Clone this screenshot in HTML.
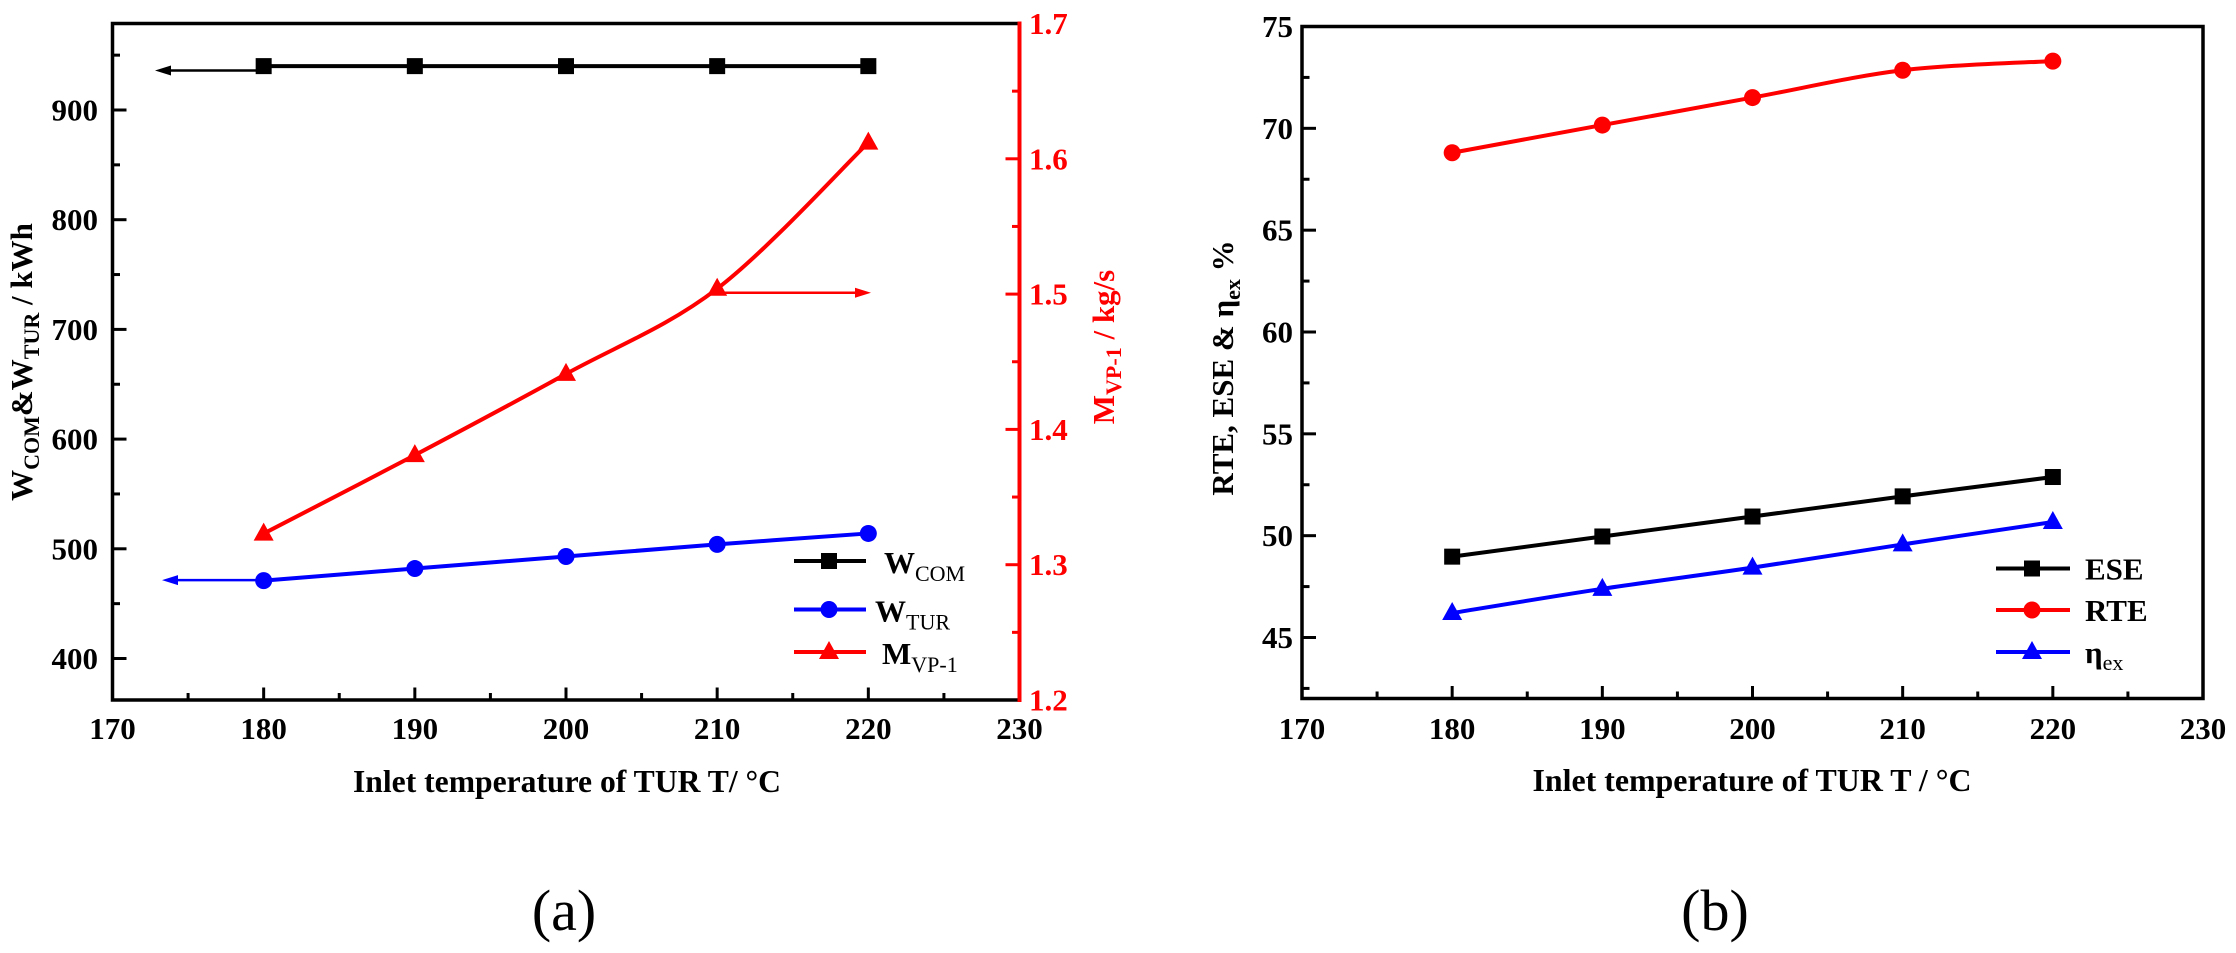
<!DOCTYPE html>
<html><head><meta charset="utf-8"><style>
html,body{margin:0;padding:0;background:#fff;}
svg{display:block;font-family:"Liberation Serif","Times New Roman",serif;font-weight:bold;}
</style></head><body>
<svg id="fig" width="2236" height="953" viewBox="0 0 2236 953" xmlns="http://www.w3.org/2000/svg"></svg>
<script>
const temps = [180, 190, 200, 210, 220];
const wCom = [940, 940, 940, 940, 940];
const wTur = [471, 482, 493, 504, 514];
const mVp = [1.323, 1.381, 1.441, 1.504, 1.612];
const ese = [48.97, 49.96, 50.94, 51.93, 52.88];
const rte = [68.8, 70.16, 71.51, 72.85, 73.3];
const etaEx = [46.2, 47.39, 48.43, 49.57, 50.67];
const xTicks = [170, 180, 190, 200, 210, 220, 230];
const yTicksA = [400, 500, 600, 700, 800, 900];
const yTicksAR = [1.2, 1.3, 1.4, 1.5, 1.6, 1.7];
const yTicksB = [45, 50, 55, 60, 65, 70, 75];

const NS = "http://www.w3.org/2000/svg";
const svg = document.getElementById('fig');
function mk(tag, attrs, parent) {
  const e = document.createElementNS(NS, tag);
  for (const k in attrs) e.setAttribute(k, attrs[k]);
  (parent || svg).appendChild(e);
  return e;
}
function lin(d0, d1, p0, p1) { return v => p0 + (v - d0) / (d1 - d0) * (p1 - p0); }
function spline(pts) {
  let d = `M${pts[0][0]},${pts[0][1]}`;
  for (let i = 0; i < pts.length - 1; i++) {
    const p0 = pts[i - 1] || pts[i], p1 = pts[i], p2 = pts[i + 1], p3 = pts[i + 2] || p2;
    const c1 = [p1[0] + (p2[0] - p0[0]) / 6, p1[1] + (p2[1] - p0[1]) / 6];
    const c2 = [p2[0] - (p3[0] - p1[0]) / 6, p2[1] - (p3[1] - p1[1]) / 6];
    d += ` C${c1[0]},${c1[1]} ${c2[0]},${c2[1]} ${p2[0]},${p2[1]}`;
  }
  return d;
}
function marker(type, x, y, color, name) {
  let e;
  if (type === 'square') e = mk('rect', {x: x - 8, y: y - 8, width: 16, height: 16, fill: color});
  else if (type === 'circle') e = mk('circle', {cx: x, cy: y, r: 8.5, fill: color});
  else e = mk('polygon', {points: `${x},${y - 11} ${x + 10},${y + 7} ${x - 10},${y + 7}`, fill: color});
  
  
  return e;
}
function series(xs, ys, sx, sy, color, type, name) {
  const pts = xs.map((v, i) => [sx(v), sy(ys[i])]);
  const p = mk('path', {d: spline(pts), fill: 'none', stroke: color, 'stroke-width': 4});
  
  
  pts.forEach((pt, i) => marker(type, pt[0], pt[1], color, name + '-point-' + xs[i]));
}
function text(str, x, y, size, anchor, color, name, extra) {
  const t = mk('text', Object.assign({x: x, y: y, 'font-size': size, 'text-anchor': anchor || 'start', fill: color || '#000'}, extra || {}));
  t.textContent = str;
  
  
  return t;
}
function arrow(x1, x2, y, color, name) {
  const dir = Math.sign(x2 - x1);
  const l = mk('line', {x1: x1, y1: y, x2: x2 - dir * 10, y2: y, stroke: color, 'stroke-width': 2.5});
  
  
  const h = mk('polygon', {points: `${x2},${y} ${x2 - dir * 16},${y - 5} ${x2 - dir * 16},${y + 5}`, fill: color});
  
  
}
function xAxis(sx, yB, prefix) {
  xTicks.forEach(v => {
    const t = mk('line', {x1: sx(v), y1: yB, x2: sx(v), y2: yB - 12.5, stroke: '#000', 'stroke-width': 3});
    
    
    if (v < 230) {
      const m = mk('line', {x1: sx(v + 5), y1: yB, x2: sx(v + 5), y2: yB - 7, stroke: '#000', 'stroke-width': 3});
      
      
    }
    text(String(v), sx(v), 739, 31, 'middle', '#000', prefix + '-x-tick-label');
  });
}

/* ---------- Chart A ---------- */
const axL = 112.5, axR = 1019.5, axT = 23.5, axB = 700;
const xA = lin(170, 230, axL, axR);
const yA = lin(400, 900, 658.5, 110);
const yAR = lin(1.2, 1.7, axB, axT);
// ticks left
yTicksA.forEach(v => {
  const t = mk('line', {x1: axL, y1: yA(v), x2: axL + 14, y2: yA(v), stroke: '#000', 'stroke-width': 3});
  
  
  const m = mk('line', {x1: axL, y1: yA(v + 50), x2: axL + 7.5, y2: yA(v + 50), stroke: '#000', 'stroke-width': 3});
  
  
  text(String(v), 98, yA(v) + 10.5, 31, 'end', '#000', 'a-y-tick-label');
});
yTicksAR.forEach(v => {
  const t = mk('line', {x1: axR, y1: yAR(v), x2: axR - 14, y2: yAR(v), stroke: '#f00', 'stroke-width': 3});
  
  
  if (v < 1.7) {
    const m = mk('line', {x1: axR, y1: yAR(v + 0.05), x2: axR - 7.5, y2: yAR(v + 0.05), stroke: '#f00', 'stroke-width': 3});
    
    
  }
  text(v.toFixed(1), 1029, yAR(v) + 10.5, 31, 'start', '#f00', 'a-y2-tick-label');
});
xAxis(xA, axB, 'a');
let fr = mk('path', {d: `M${axR},${axT} L${axL},${axT} L${axL},${axB} L${axR},${axB}`, fill: 'none', stroke: '#000', 'stroke-width': 3.5});


let ra = mk('line', {x1: axR, y1: axT - 2, x2: axR, y2: axB + 2, stroke: '#f00', 'stroke-width': 4});



arrow(xA(180), 155, yA(936), '#000', 'a-wcom-axis-arrow');
arrow(xA(180), 162, yA(471.5), '#00f', 'a-wtur-axis-arrow');
arrow(xA(210), 871, yAR(1.501), '#f00', 'a-mvp-axis-arrow');
series(temps, wCom, xA, yA, '#000', 'square', 'a-wcom');
series(temps, wTur, xA, yA, '#00f', 'circle', 'a-wtur');
series(temps, mVp, xA, yAR, '#f00', 'triangle', 'a-mvp');

// legend A
const legA = [['#000', 'square', 'W', 'COM', 561], ['#00f', 'circle', 'W', 'TUR', 609.5], ['#f00', 'triangle', 'M', 'VP-1', 652]];
legA.forEach(([c, t, main, sub, y], i) => {
  const l = mk('line', {x1: 794, y1: y, x2: 866, y2: y, stroke: c, 'stroke-width': 4});
  
  
  marker(t, 829, y, c, 'a-legend-marker-' + sub.toLowerCase());
  const tx = text('', i === 0 ? 884 : (i === 1 ? 875 : 882), y + 12, 31, 'start', '#000', 'a-legend-label-' + sub.toLowerCase());
  const s1 = document.createElementNS(NS, 'tspan'); s1.textContent = main; tx.appendChild(s1);
  const s2 = document.createElementNS(NS, 'tspan'); s2.textContent = sub;
  s2.setAttribute('font-size', 22); s2.setAttribute('dy', 8); s2.setAttribute('font-weight', 'normal'); tx.appendChild(s2);
});

// titles A
text('Inlet temperature of TUR T/ °C', 567, 792, 32, 'middle', '#000', 'a-x-axis-title', {textLength: 428, lengthAdjust: 'spacingAndGlyphs'});
let tA = text('', 0, 0, 31, 'middle', '#000', 'a-y-axis-title', {transform: 'translate(32,362) rotate(-90)'});
[['W', 31, 0], ['COM', 22, 7], ['&W', 31, -7], ['TUR', 22, 7], [' / kWh', 31, -7]].forEach(([s, f, dy]) => {
  const sp = document.createElementNS(NS, 'tspan'); sp.textContent = s; sp.setAttribute('font-size', f); sp.setAttribute('dy', dy); tA.appendChild(sp);
});
let tAR = text('', 0, 0, 31, 'middle', '#f00', 'a-y2-axis-title', {transform: 'translate(1114,347) rotate(-90)'});
[['M', 31, 0], ['VP-1', 22, 7], [' / kg/s', 31, -7]].forEach(([s, f, dy]) => {
  const sp = document.createElementNS(NS, 'tspan'); sp.textContent = s; sp.setAttribute('font-size', f); sp.setAttribute('dy', dy); tAR.appendChild(sp);
});
text('(a)', 564, 930, 58, 'middle', '#000', 'panel-a-label', {'font-weight': 'normal'});

/* ---------- Chart B ---------- */
const bL = 1302, bR = 2203, bT = 26.5, bB = 698.5;
const xB = lin(170, 230, bL, bR);
const yB = lin(45, 75, 637.5, bT);
yTicksB.forEach(v => {
  const t = mk('line', {x1: bL, y1: yB(v), x2: bL + 14, y2: yB(v), stroke: '#000', 'stroke-width': 3});
  
  
  const m = mk('line', {x1: bL, y1: yB(v - 2.5), x2: bL + 7.5, y2: yB(v - 2.5), stroke: '#000', 'stroke-width': 3});
  
  
  text(String(v), 1293, yB(v) + 10.5, 31, 'end', '#000', 'b-y-tick-label');
});
xAxis(xB, bB, 'b');
let frB = mk('rect', {x: bL, y: bT, width: bR - bL, height: bB - bT, fill: 'none', stroke: '#000', 'stroke-width': 3.5});


series(temps, ese, xB, yB, '#000', 'square', 'b-ese');
series(temps, rte, xB, yB, '#f00', 'circle', 'b-rte');
series(temps, etaEx, xB, yB, '#00f', 'triangle', 'b-eta-ex');

const legB = [['#000', 'square', 'ESE', '', 568.5], ['#f00', 'circle', 'RTE', '', 610], ['#00f', 'triangle', 'η', 'ex', 652]];
legB.forEach(([c, t, main, sub, y]) => {
  const l = mk('line', {x1: 1996, y1: y, x2: 2070, y2: y, stroke: c, 'stroke-width': 4});
  
  
  marker(t, 2032, y, c, 'b-legend-marker-' + main.toLowerCase());
  const tx = text('', 2085, y + 11, 31, 'start', '#000', 'b-legend-label-' + (sub || main).toLowerCase());
  const s1 = document.createElementNS(NS, 'tspan'); s1.textContent = main; tx.appendChild(s1);
  if (sub) {
    const s2 = document.createElementNS(NS, 'tspan'); s2.textContent = sub;
    s2.setAttribute('font-size', 22); s2.setAttribute('dy', 7); s2.setAttribute('font-weight', 'normal'); tx.appendChild(s2);
  }
});
text('Inlet temperature of TUR  T / °C', 1752, 791, 32, 'middle', '#000', 'b-x-axis-title', {textLength: 439, lengthAdjust: 'spacingAndGlyphs', 'xml:space': 'preserve'});
let tB = text('', 0, 0, 31, 'middle', '#000', 'b-y-axis-title', {transform: 'translate(1233,368) rotate(-90)'});
[['RTE, ESE & η', 31, 0], ['ex', 22, 7], ['   %', 31, -7]].forEach(([s, f, dy]) => {
  const sp = document.createElementNS(NS, 'tspan'); sp.textContent = s; sp.setAttribute('font-size', f); sp.setAttribute('dy', dy);
  sp.setAttribute('xml:space', 'preserve'); tB.appendChild(sp);
});
text('(b)', 1715, 930, 58, 'middle', '#000', 'panel-b-label', {'font-weight': 'normal'});
</script>
</body></html>
